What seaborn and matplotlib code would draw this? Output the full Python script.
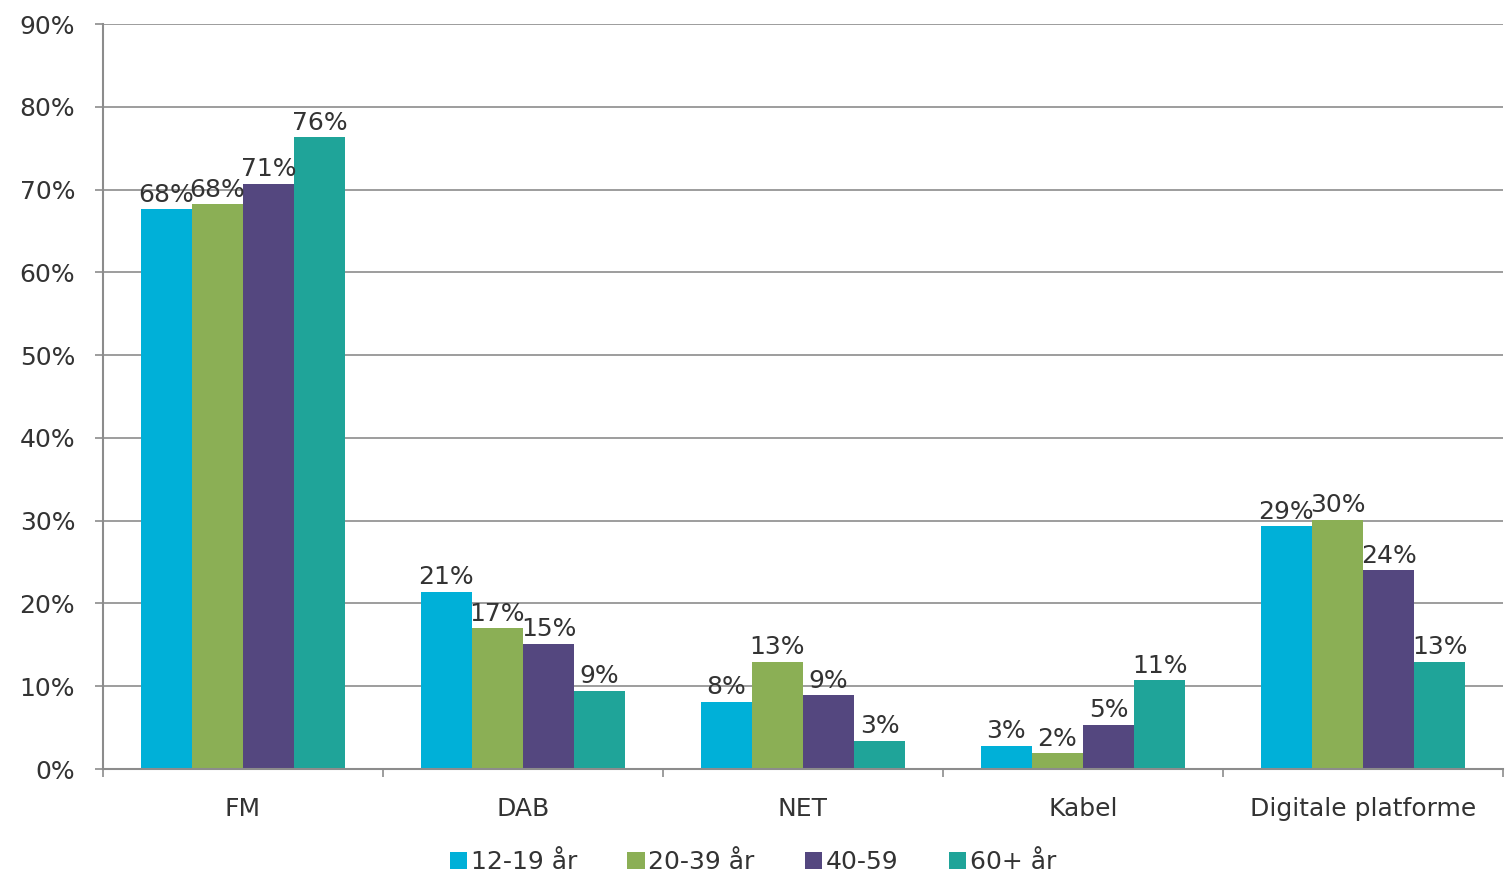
import matplotlib

matplotlib.use("Agg")

import matplotlib.pyplot as plt
import pandas as pd
import seaborn as sns
from matplotlib.ticker import FixedLocator, PercentFormatter

# Data
kanaler = ["FM", "DAB", "NET", "Kabel", "Digitale platforme"]
aldersgrupper = ["12-19 år", "20-39 år", "40-59", "60+ år"]
andel_12_19 = [67.6, 21.4, 8.1, 2.8, 29.3]
andel_20_39 = [68.2, 17.0, 12.9, 1.9, 30.1]
andel_40_59 = [70.7, 15.1, 8.9, 5.3, 24.0]
andel_60 = [76.3, 9.4, 3.4, 10.7, 12.9]

farver = ["#00B0D8", "#8BAF55", "#54477F", "#1FA499"]

rows = []
for gruppe, vals in zip(aldersgrupper, [andel_12_19, andel_20_39, andel_40_59, andel_60]):
    for kanal, v in zip(kanaler, vals):
        rows.append({"kanal": kanal, "alder": gruppe, "andel": v})
df = pd.DataFrame(rows)

sns.set_theme(style="white")
plt.rcParams["font.family"] = ["DejaVu Sans"]
text_color = "#333333"
fs = 18

fig = plt.figure(figsize=(15.06, 8.77), dpi=100)
ax = fig.add_axes([0.0684, 0.1231, 0.9296, 0.8495])

sns.barplot(
    data=df, x="kanal", y="andel", hue="alder", order=kanaler,
    hue_order=aldersgrupper, palette=farver, width=0.73, saturation=1,
    errorbar=None, linewidth=0, ax=ax,
)

for container in ax.containers:
    ax.bar_label(container, fmt="%.0f%%", padding=2, fontsize=fs, color=text_color)

ax.set_ylim(0, 90)
ax.set_xlim(-0.5, 4.5)
ax.yaxis.set_major_locator(FixedLocator(range(0, 91, 10)))
ax.yaxis.set_major_formatter(PercentFormatter(decimals=0))
ax.grid(axis="y", color="#8c8c8c", linewidth=1.2)
ax.set_axisbelow(True)

ax.set_xlabel("")
ax.set_ylabel("")
ax.tick_params(axis="y", labelsize=fs, colors=text_color, length=6, width=1.2,
               left=True, color="#8c8c8c", pad=14)
ax.tick_params(axis="x", labelsize=fs, colors=text_color, length=0, pad=20)
ax.xaxis.set_minor_locator(FixedLocator([i - 0.5 for i in range(len(kanaler) + 1)]))
ax.tick_params(axis="x", which="minor", bottom=True, length=6, width=1.2, color="#8c8c8c")

for side in ["top", "right"]:
    ax.spines[side].set_visible(False)
for side in ["left", "bottom"]:
    ax.spines[side].set_color("#8c8c8c")
    ax.spines[side].set_linewidth(1.5)

handles, labels = ax.get_legend_handles_labels()
ax.legend_.remove()
fig.legend(handles, labels, loc="center", bbox_to_anchor=(0.5, 0.017), ncol=4,
           frameon=False, fontsize=fs, handlelength=0.7, handleheight=0.7,
           handletextpad=0.15, columnspacing=2.0, labelcolor=text_color)

fig.savefig("out.png", dpi=100)
